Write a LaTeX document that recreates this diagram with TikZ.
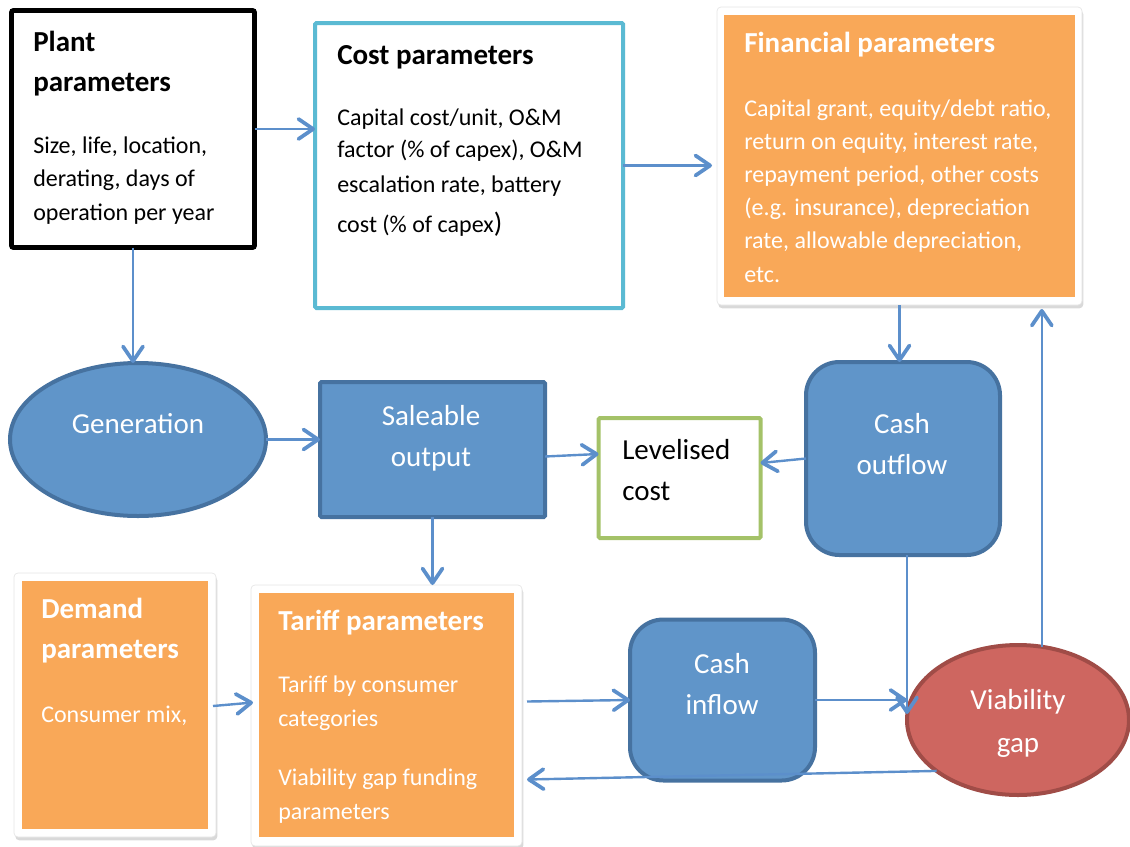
\documentclass[tikz,border=0pt]{standalone}
\usepackage{fontspec}
\setmainfont{Carlito}
\usetikzlibrary{arrows.meta,shadows,calc,shapes.geometric}

\definecolor{arrowc}{RGB}{92,143,203}
\definecolor{bluefill}{RGB}{96,149,201}
\definecolor{blueedge}{RGB}{70,114,160}
\definecolor{orangefill}{RGB}{249,168,88}
\definecolor{cyanedge}{RGB}{91,186,211}
\definecolor{greenedge}{RGB}{164,194,104}
\definecolor{redfill}{RGB}{206,102,96}
\definecolor{rededge}{RGB}{160,76,71}

\tikzset{
  sz/.style 2 args={minimum width=#1*0.75pt, minimum height=#2*0.75pt, inner sep=0pt, outer sep=0pt},
  plainbox/.style={rectangle, draw=black, line width=3.6pt, fill=white, rounded corners=1.5pt},
  costbox/.style={rectangle, draw=cyanedge, line width=3pt, fill=white, rounded corners=1pt},
  levbox/.style={rectangle, draw=greenedge, line width=3pt, fill=white, rounded corners=1pt},
  whiteframe/.style={rectangle, fill=white, draw=black!10, line width=0.5pt, rounded corners=3pt,
    drop shadow={opacity=0.3, shadow xshift=1pt, shadow yshift=-2.5pt}},
  panel/.style={rectangle, fill=orangefill},
  bluebox/.style={rectangle, draw=blueedge, line width=3pt, fill=bluefill, rounded corners=1pt},
  blueround/.style={rectangle, draw=blueedge, line width=3pt, fill=bluefill, rounded corners=25pt},
  blueoval/.style={ellipse, draw=blueedge, line width=3pt, fill=bluefill},
  redoval/.style={ellipse, draw=rededge, line width=3pt, fill=redfill},
  % multi-line texts are placed by the baseline of their last line
  headtext/.style={font=\bfseries\fontsize{21.75}{30}\selectfont, inner sep=0pt, anchor=base west, align=left},
  bodytext/.style={font=\fontsize{18}{24.9}\selectfont, inner sep=0pt, anchor=base west, align=left},
  shapetext/.style={font=\fontsize{21.75}{30.75}\selectfont, inner sep=0pt, anchor=base, align=center, text=white},
  arr/.style={draw=arrowc, line width=1.8pt,
    -{Straight Barb[length=11pt,width=15pt,line width=2.8pt,round]}},
}

\begin{document}
\begin{tikzpicture}[x=0.75pt,y=-0.75pt]
\useasboundingbox (0,0) rectangle (1130,846);

% boxes and shapes
\node[plainbox, sz={243}{237}] (plant) at (133,129) {};
\node[costbox, sz={308}{285}] (cost) at (469,165.5) {};
\node[whiteframe, sz={365}{298}] (finframe) at (899.5,156) {};
\node[panel, sz={351}{282}] (fin) at (899.5,156) {};
\node[blueoval, sz={256}{153}] (gen) at (138,439.5) {};
\node[bluebox, sz={225}{135}] (sale) at (432.5,449.5) {};
\node[levbox, sz={162}{120}] (lev) at (679.5,478) {};
\node[blueround, sz={194}{193}] (cout) at (903,458.5) {};
\node[whiteframe, sz={202}{264}] (demframe) at (115,705) {};
\node[panel, sz={186}{248}] (dem) at (115,705) {};
\node[whiteframe, sz={271}{261}] (tarframe) at (386.5,715.5) {};
\node[panel, sz={255}{244}] (tar) at (386.5,715) {};
\node[blueround, sz={185}{161}] (cin) at (722.5,700) {};
\node[redoval, sz={222}{150}] (via) at (1018,720) {};

% texts
\node[headtext] (plantT) at (33,91) {Plant\\parameters};
\node[bodytext] (plantB) at (33,220) {Size, life, location,\\derating, days of\\operation per year};

\node[headtext] (costT) at (337,64) {Cost parameters};
\node[bodytext] (costB) at (337,232) {Capital cost/unit, O\&M\\[-0.8pt]factor (\% of capex), O\&M\\[1.5pt]escalation rate, battery\\[4.5pt]cost (\% of capex{\fontsize{21}{24}\selectfont)}};

\node[headtext, text=white] (finT) at (744,52) {Financial parameters};
\node[bodytext, text=white] (finB) at (744,282) {Capital grant, equity/debt ratio,\\return on equity, interest rate,\\repayment period, other costs\\(e.g. insurance), depreciation\\rate, allowable depreciation,\\etc.};

\node[shapetext] (genT) at (138,433) {Generation};
\node[shapetext] (saleT) at (431,466) {Saleable\\output};
\node[shapetext, text=black, anchor=base west, align=left] (levT) at (622,500) {Levelised\\cost};
\node[shapetext] (coutT) at (902,474) {Cash\\outflow};
\node[shapetext] (cinT) at (722,714) {Cash\\inflow};
\node[shapetext] (viaT) at (1018,752) {Viability\\[1.5pt]gap};

\node[headtext, text=white] (demT) at (41,658) {Demand\\parameters};
\node[bodytext, text=white] (demB) at (41,722) {Consumer mix,};

\node[headtext, text=white] (tarT) at (278,630) {Tariff parameters};
\node[bodytext, text=white] (tarB1) at (278,726) {Tariff by consumer\\categories};
\node[bodytext, text=white] (tarB2) at (278,819) {Viability gap funding\\parameters};

% connectors
\draw[arr] (plant.east) -- (cost.west |- plant.east);
\draw[arr] (cost.east) -- ($(cost.east -| finframe.west)+(-5,0)$);
\draw[arr] (finframe.south) -- (finframe.south |- cout.north);
\draw[arr] (plant.south) -- (plant.south |- gen.north);
\draw[arr] (gen.east) -- (gen.east -| sale.west);
\draw[arr] ($(sale.east)+(0,7)$) -- ($(lev.west)+(0,-24)$);
\draw[arr] (cout.west) -- ($(lev.east)+(0,-15)$);
\draw[arr] (sale.south) -- (sale.south |- tarframe.north);
\draw[arr] ($(demframe.east)+(-3,1)$) -- ($(tarframe.west)+(2,-13)$);
\draw[arr] ($(tarframe.east)+(5,-14)$) -- (cin.west);
\draw[arr] (cin.east) -- (cin.east -| via.west);
\draw[arr] (cout.south -| via.west) -- ($(via.west)+(0,-6)$);
\draw[arr] (via.72) -- ($(via.72 |- finframe.south)+(0,4)$);
\draw[arr] (via.212) -- ($(tarframe.east)+(5,64)$);
\end{tikzpicture}
\end{document}
